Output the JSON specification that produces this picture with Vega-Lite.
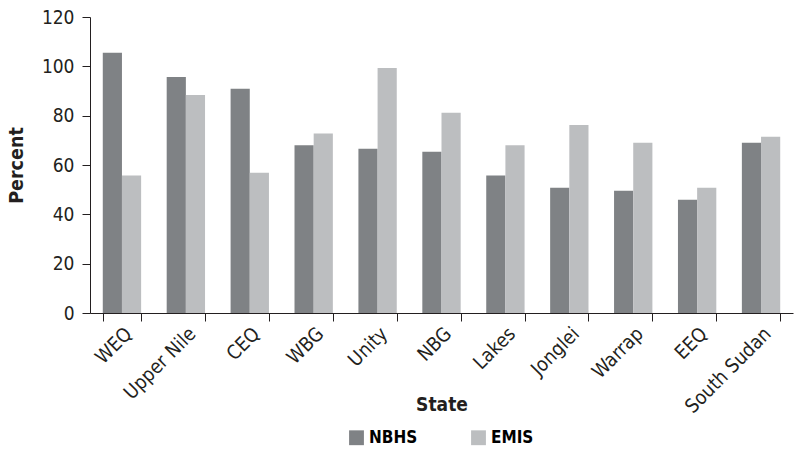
{
  "$schema": "https://vega.github.io/schema/vega-lite/v6.json",
  "autosize": {"type": "none"},
  "width": 703,
  "height": 296,
  "padding": {"left": 90, "top": 17, "right": 1, "bottom": 141},
  "background": "white",
  "config": {
    "font": "DejaVu Sans Condensed, Open Sans",
    "view": {"stroke": null},
    "axis": {"grid": false, "domainColor": "#231f20", "tickColor": "#231f20", "labelColor": "#231f20", "titleColor": "#231f20"}
  },
  "data": {
    "values": [
      {"State": "WEQ", "Source": "NBHS", "Percent": 105.5},
      {"State": "WEQ", "Source": "EMIS", "Percent": 55.7},
      {"State": "Upper Nile", "Source": "NBHS", "Percent": 95.7},
      {"State": "Upper Nile", "Source": "EMIS", "Percent": 88.4},
      {"State": "CEQ", "Source": "NBHS", "Percent": 90.9},
      {"State": "CEQ", "Source": "EMIS", "Percent": 56.9},
      {"State": "WBG", "Source": "NBHS", "Percent": 68.0},
      {"State": "WBG", "Source": "EMIS", "Percent": 72.8},
      {"State": "Unity", "Source": "NBHS", "Percent": 66.6},
      {"State": "Unity", "Source": "EMIS", "Percent": 99.3},
      {"State": "NBG", "Source": "NBHS", "Percent": 65.4},
      {"State": "NBG", "Source": "EMIS", "Percent": 81.2},
      {"State": "Lakes", "Source": "NBHS", "Percent": 55.7},
      {"State": "Lakes", "Source": "EMIS", "Percent": 68.0},
      {"State": "Jonglei", "Source": "NBHS", "Percent": 50.8},
      {"State": "Jonglei", "Source": "EMIS", "Percent": 76.2},
      {"State": "Warrap", "Source": "NBHS", "Percent": 49.6},
      {"State": "Warrap", "Source": "EMIS", "Percent": 69.0},
      {"State": "EEQ", "Source": "NBHS", "Percent": 45.9},
      {"State": "EEQ", "Source": "EMIS", "Percent": 50.8},
      {"State": "South Sudan", "Source": "NBHS", "Percent": 69.0},
      {"State": "South Sudan", "Source": "EMIS", "Percent": 71.5}
    ]
  },
  "mark": {"type": "bar"},
  "encoding": {
    "x": {
      "field": "State", "type": "nominal", "sort": null,
      "scale": {"paddingInner": 0.4, "paddingOuter": 0.2},
      "axis": {
        "title": "State", "titleFontSize": 19, "titleFontWeight": "bold", "titleY": 82, "titleBaseline": "top",
        "labelAngle": -45, "labelAlign": "right", "labelBaseline": "top", "labelFontSize": 19.5, "labelPadding": 3,
        "bandPosition": 0, "tickSize": 8, "tickBand": "extent"
      }
    },
    "xOffset": {"field": "Source", "type": "nominal", "sort": ["NBHS", "EMIS"], "scale": {"paddingInner": 0}},
    "y": {
      "field": "Percent", "type": "quantitative",
      "scale": {"domain": [0, 120]},
      "axis": {"values": [0, 20, 40, 60, 80, 100, 120], "labelFontSize": 19, "labelPadding": 8, "tickSize": 8, "title": "Percent", "titleFontSize": 19.5, "titleFontWeight": "bold", "titlePadding": 15}
    },
    "color": {
      "field": "Source", "type": "nominal", "sort": ["NBHS", "EMIS"],
      "scale": {"domain": ["NBHS", "EMIS"], "range": ["#7f8285", "#bcbec0"]},
      "legend": {"title": null, "orient": "none", "direction": "horizontal", "legendX": 258, "legendY": 412, "symbolType": "square", "symbolSize": 220, "labelFontSize": 17, "labelFontWeight": "bold", "columnPadding": 52, "labelOffset": 4}
    }
  }
}
